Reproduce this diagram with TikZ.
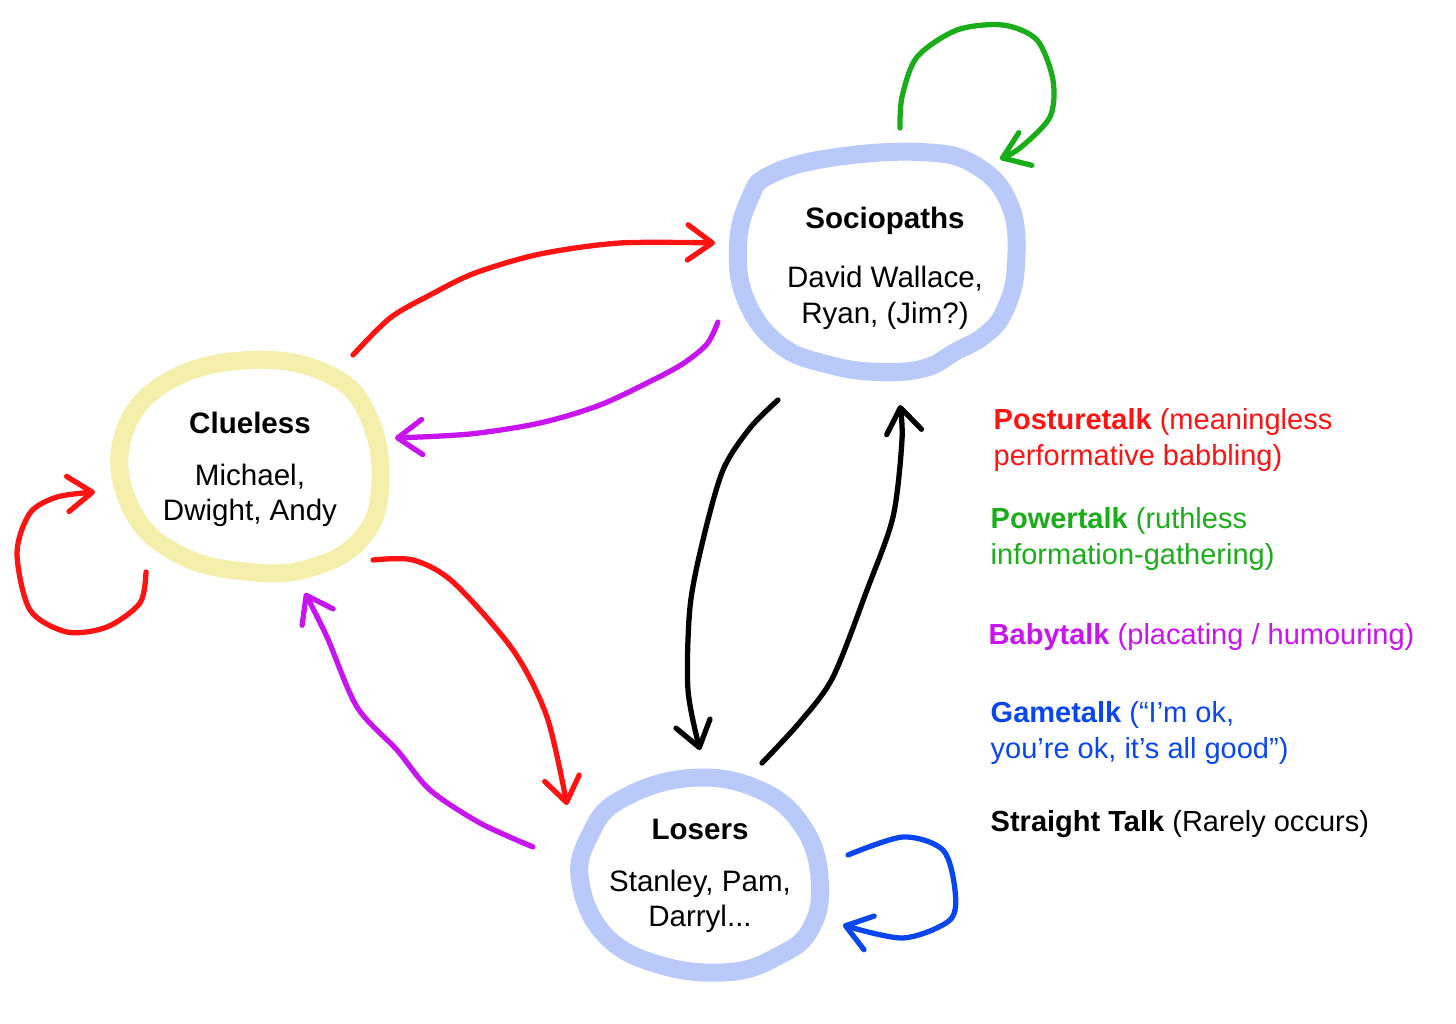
\documentclass[tikz,border=0pt]{standalone}
\usepackage{fontspec}
\setmainfont{Liberation Sans}
\usetikzlibrary{arrows.meta}
\definecolor{posture}{HTML}{FF1212}
\definecolor{power}{HTML}{1AAD1A}
\definecolor{baby}{HTML}{C814F0}
\definecolor{game}{HTML}{0A46F0}
\definecolor{blobblue}{HTML}{B9C9FA}
\definecolor{blobyellow}{HTML}{F4F0AC}
\tikzset{
  blob/.style={line width=0.18cm, line join=round},
  talk/.style={line width=1.5pt, line cap=round, line join=round,
    -{Straight Barb[length=7pt,width=10pt,round]}},
  group/.style={align=center, font=\fontsize{8.4}{10}\selectfont},
  legend/.style={align=left, anchor=west, inner sep=0pt, font=\fontsize{8.25}{10}\selectfont}
}
\begin{document}
\begin{tikzpicture}[x=0.01cm,y=-0.01cm]
  \useasboundingbox (0,0) rectangle (1456,1024);

  % the three groups
  \draw[blob, blobblue] plot[smooth cycle, tension=0.7] coordinates {(770,175) (830,158) (920,152) (975,165) (1010,205) (1016,265) (1005,310) (985,335) (955,352) (925,368) (880,372) (830,365) (780,345) (746,300) (738,245) (750,198)};
  \draw[blob, blobyellow] plot[smooth cycle, tension=0.7] coordinates {(165,383) (250,360) (330,375) (370,420) (380,490) (360,540) (310,568) (250,572) (180,555) (132,510) (122,440)};
  \draw[blob, blobblue] plot[smooth cycle, tension=0.7] coordinates {(620,800) (690,778) (760,790) (805,830) (820,885) (810,930) (780,955) (730,972) (660,965) (605,935) (580,880) (590,835)};

  \node[group] (soc) at (885,268) {\textbf{Sociopaths}\\[7pt] David Wallace,\\ Ryan, (Jim?)};
  \node[group] (clu) at (250,469) {\textbf{Clueless}\\[4.8pt] Michael,\\ Dwight, Andy};
  \node[group] (los) at (700,876) {\textbf{Losers}\\[4.8pt] Stanley, Pam,\\ Darryl...};

  % ends of the strokes
  \coordinate (clu-soc-a) at (353,355);  \coordinate (clu-soc-b) at (715,243);
  \coordinate (soc-clu-a) at (718,322);  \coordinate (soc-clu-b) at (395,438);
  \coordinate (soc-los-a) at (778,400);  \coordinate (soc-los-b) at (700,750);
  \coordinate (los-soc-a) at (762,763);  \coordinate (los-soc-b) at (900,405);
  \coordinate (clu-los-a) at (373,560);  \coordinate (clu-los-b) at (567,805);
  \coordinate (los-clu-a) at (533,847);  \coordinate (los-clu-b) at (305,593);
  \coordinate (clu-loop-a) at (146,572); \coordinate (clu-loop-b) at (95,492);
  \coordinate (soc-loop-a) at (900,128); \coordinate (soc-loop-b) at (1000,159);
  \coordinate (los-loop-a) at (848,855); \coordinate (los-loop-b) at (843,925);

  % posturetalk
  \draw[talk, posture] plot[smooth] coordinates {(clu-soc-a) (390,318) (430,295) (475,273) (540,254) (620,243) (clu-soc-b)};
  \draw[talk, posture] plot[smooth] coordinates {(clu-los-a) (413,560) (453,582) (513,650) (547,717) (clu-los-b)};
  \draw[talk, posture] plot[smooth] coordinates {(clu-loop-a) (140,603) (107,627) (67,632) (30,610) (17,553) (30,513) (57,497) (clu-loop-b)};
  % powertalk
  \draw[talk, power] plot[smooth] coordinates {(soc-loop-a) (902,97) (917,57) (957,30) (1003,25) (1037,40) (1053,80) (1050,117) (1020,148) (soc-loop-b)};
  % babytalk
  \draw[talk, baby] plot[smooth] coordinates {(soc-clu-a) (707,344) (684,363) (655,379) (600,405) (540,423) (470,434) (soc-clu-b)};
  \draw[talk, baby] plot[smooth] coordinates {(los-clu-a) (480,823) (430,790) (397,750) (357,707) (327,637) (los-clu-b)};
  % gametalk
  \draw[talk, game] plot[smooth] coordinates {(los-loop-a) (903,837) (943,850) (955,890) (950,920) (903,938) (los-loop-b)};
  % straight talk
  \draw[talk, black] plot[smooth] coordinates {(soc-los-a) (750,428) (723,470) (703,540) (690,607) (688,690) (soc-los-b)};
  \draw[talk, black] plot[smooth] coordinates {(los-soc-a) (800,722) (833,677) (867,590) (893,517) (902,440) (los-soc-b)};

  % legend
  \node[legend, text=posture] (leg-posture) at (993,440) {\textbf{Posturetalk} (meaningless\\ performative babbling)};
  \node[legend, text=power] (leg-power) at (990,539) {\textbf{Powertalk} (ruthless\\ information-gathering)};
  \node[legend, text=baby] (leg-baby) at (988,637) {\textbf{Babytalk} (placating / humouring)};
  \node[legend, text=game] (leg-game) at (990,733) {\textbf{Gametalk} (“I’m ok,\\ you’re ok, it’s all good”)};
  \node[legend, text=black] (leg-straight) at (990,824) {\textbf{Straight Talk} (Rarely occurs)};
\end{tikzpicture}
\end{document}
